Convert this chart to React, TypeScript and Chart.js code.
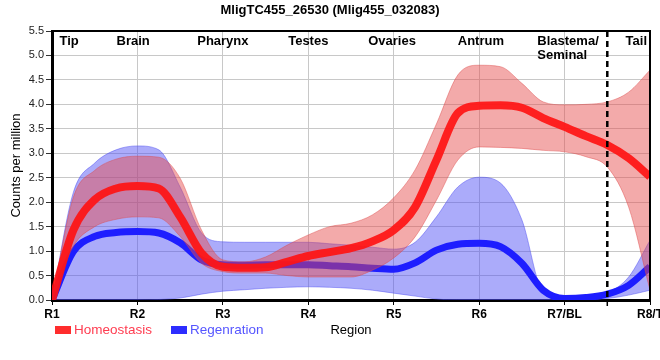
import React, { useEffect, useRef } from "react";
import { Chart, registerables } from "chart.js";

Chart.register(...registerables);

const titleText = "MligTC455_26530 (Mlig455_032083)";
const xTickLabels = ["R1", "R2", "R3", "R4", "R5", "R6", "R7/BL", "R8/T"];
const regionNames = ["Tip", "Brain", "Pharynx", "Testes", "Ovaries", "Antrum", "Blastema/\nSeminal", "Tail"];
const regionPos = [1.2, 1.95, 3.0, 4.0, 4.98, 6.02, 6.88, 7.84];
const dividerPos = 7.5;

const xPos = [1, 1.25, 1.5, 1.75, 2, 2.25, 2.5, 2.75, 3, 3.25, 3.5, 3.75, 4, 4.25, 4.5, 4.75, 5, 5.25, 5.5, 5.75, 6, 6.25, 6.5, 6.75, 7, 7.25, 7.5, 7.75, 8];

const homeoMean = [0, 1.43, 2.05, 2.28, 2.33, 2.28, 1.7, 0.96, 0.68, 0.66, 0.67, 0.78, 0.9, 0.98, 1.06, 1.2, 1.43, 1.9, 2.86, 3.82, 3.97, 3.98, 3.93, 3.72, 3.54, 3.35, 3.17, 2.9, 2.52];
const homeoUpper = [0, 2.1, 2.65, 2.88, 2.94, 2.92, 2.49, 1.43, 0.82, 0.78, 0.88, 1.12, 1.33, 1.5, 1.57, 1.74, 2.09, 2.66, 3.6, 4.6, 4.8, 4.77, 4.43, 4.05, 3.99, 4.0, 4.05, 4.25, 4.7];
const homeoLower = [0, 1.1, 1.5, 1.65, 1.7, 1.68, 1.3, 0.75, 0.58, 0.55, 0.55, 0.5, 0.47, 0.47, 0.47, 0.61, 0.86, 1.29, 2.04, 2.86, 3.13, 3.12, 3.1, 3.06, 3.03, 2.93, 2.72, 1.9, 0.2];

const regenMean = [0, 0.99, 1.3, 1.38, 1.4, 1.37, 1.17, 0.82, 0.72, 0.71, 0.72, 0.72, 0.72, 0.7, 0.68, 0.65, 0.63, 0.76, 1.02, 1.14, 1.16, 1.09, 0.75, 0.2, 0.03, 0.05, 0.12, 0.3, 0.68];
const regenUpper = [0, 2.2, 2.8, 3.07, 3.15, 3.07, 2.31, 1.37, 1.19, 1.18, 1.18, 1.18, 1.18, 1.15, 1.12, 1.08, 1.04, 1.18, 1.7, 2.31, 2.51, 2.39, 1.64, 0.16, 0.05, 0.08, 0.15, 0.47, 1.22];
const regenLower = [0, 0, 0, 0, 0, 0.01, 0.04, 0.12, 0.18, 0.21, 0.24, 0.26, 0.27, 0.26, 0.24, 0.2, 0.14, 0.08, 0.02, 0, 0, 0, 0, 0, 0, 0, 0.03, 0.1, 0.2];

const legendItems = [
  { label: "Homeostasis", box: "rgb(255,45,45)", text: "rgb(255,60,80)" },
  { label: "Regenration", box: "rgb(45,45,255)", text: "rgb(85,85,255)" },
];

const FONT = '"Liberation Sans", Arial, sans-serif';

const pts = (ys: number[]) => ys.map((y, i) => ({ x: xPos[i], y }));

const decorPlugin = {
  id: "decor",
  afterDatasetsDraw(chart: any) {
    const { ctx, chartArea, scales } = chart;
    const x = scales.x.getPixelForValue(dividerPos);
    ctx.save();
    ctx.strokeStyle = "#000";
    ctx.lineWidth = 2.5;
    ctx.setLineDash([6, 4]);
    ctx.beginPath();
    ctx.moveTo(x, chartArea.top);
    ctx.lineTo(x, chartArea.bottom);
    ctx.stroke();
    ctx.setLineDash([]);
    ctx.lineWidth = 1.5;
    ctx.beginPath();
    ctx.moveTo(x, chartArea.bottom);
    ctx.lineTo(x, chartArea.bottom + 6);
    ctx.stroke();
    // top & right border
    ctx.lineWidth = 2;
    ctx.beginPath();
    ctx.moveTo(chartArea.left, chartArea.top);
    ctx.lineTo(chartArea.right, chartArea.top);
    ctx.lineTo(chartArea.right, chartArea.bottom);
    ctx.stroke();
    ctx.restore();
  },
  afterDraw(chart: any) {
    const { ctx, chartArea, scales } = chart;
    ctx.save();
    ctx.fillStyle = "#000";
    ctx.textBaseline = "middle";
    ctx.font = `bold 13px ${FONT}`;
    ctx.textAlign = "center";
    ctx.fillText(titleText, 330, 10);
    regionNames.forEach((name, i) => {
      const px = scales.x.getPixelForValue(regionPos[i]);
      const lines = name.split("\n");
      if (lines.length > 1) {
        ctx.textAlign = "left";
        lines.forEach((l, j) => ctx.fillText(l, px - 17, chartArea.top + 10 + j * 14));
        ctx.textAlign = "center";
      } else {
        ctx.fillText(name, px, chartArea.top + 10);
      }
    });
    // legend
    ctx.font = `13.5px ${FONT}`;
    ctx.textAlign = "left";
    let lx = 55;
    const ly = 330;
    legendItems.forEach((it) => {
      ctx.fillStyle = it.box;
      ctx.fillRect(lx, ly - 4, 16, 8);
      ctx.fillStyle = it.text;
      ctx.fillText(it.label, lx + 19, ly);
      lx += 116;
    });
    ctx.restore();
  },
};

export default function App() {
  const ref = useRef<HTMLCanvasElement>(null);
  useEffect(() => {
    document.body.style.margin = "0";
    const canvas = ref.current!;
    const lineCommon = {
      pointRadius: 0,
      cubicInterpolationMode: "monotone" as const,
    };
    const chart = new Chart(canvas, {
      type: "line",
      data: {
        datasets: [
          { label: "Homeostasis", data: pts(homeoMean), borderColor: "rgba(255,20,20,0.92)", borderWidth: 8, fill: false, order: 0, ...lineCommon },
          { label: "hu", data: pts(homeoUpper), borderColor: "rgba(220,70,70,0.45)", borderWidth: 1, backgroundColor: "rgba(230,75,75,0.47)", fill: 2, order: 1, ...lineCommon },
          { label: "hl", data: pts(homeoLower), borderColor: "rgba(220,70,70,0.45)", borderWidth: 1, fill: false, order: 2, ...lineCommon },
          { label: "Regenration", data: pts(regenMean), borderColor: "rgb(30,30,255)", borderWidth: 7, fill: false, order: 3, ...lineCommon },
          { label: "ru", data: pts(regenUpper), borderColor: "rgba(70,70,240,0.45)", borderWidth: 1, backgroundColor: "rgba(80,80,245,0.48)", fill: 5, order: 4, ...lineCommon },
          { label: "rl", data: pts(regenLower), borderColor: "rgba(70,70,240,0.45)", borderWidth: 1, fill: false, order: 5, ...lineCommon },
        ],
      },
      options: {
        responsive: false,
        animation: false,
        layout: { padding: { top: 31, left: 0, right: 10, bottom: 0 } },
        plugins: { legend: { display: false }, title: { display: false }, tooltip: { enabled: false } },
        scales: {
          x: {
            type: "linear",
            min: 1,
            max: 8,
            afterFit(scale: any) {
              scale.height = 60;
              scale.paddingLeft = 0;
              scale.paddingRight = 0;
            },
            ticks: {
              stepSize: 1,
              autoSkip: false,
              maxRotation: 0,
              padding: 2,
              color: "#000",
              font: { family: FONT, size: 12, weight: "bold" },
              callback: (v: any) => xTickLabels[Math.round(Number(v)) - 1] ?? "",
            },
            grid: { color: "#c8c8c8", lineWidth: 1, tickLength: 5, tickColor: "#000", drawOnChartArea: true },
            border: { display: true, color: "#000", width: 3 },
            title: { display: true, text: "Region", color: "#000", font: { family: FONT, size: 13 }, padding: { top: 0, bottom: 22 } },
          },
          y: {
            min: 0,
            max: 5.5,
            afterFit(scale: any) {
              scale.width = 52;
              scale.paddingTop = 0;
              scale.paddingBottom = 0;
            },
            ticks: {
              stepSize: 0.5,
              padding: 2,
              color: "#222",
              font: { family: FONT, size: 11 },
              callback: (v: any) => Number(v).toFixed(1),
            },
            grid: { color: "#c8c8c8", lineWidth: 1, tickLength: 6, tickColor: "#333" },
            border: { display: true, color: "#000", width: 3 },
            title: { display: true, text: "Counts per million", color: "#000", font: { family: FONT, size: 13 }, padding: { top: 9, bottom: 0 } },
          },
        },
      },
      plugins: [decorPlugin],
    });
    return () => chart.destroy();
  }, []);
  return (
    <div style={{ width: 660, height: 360 }}>
      <canvas ref={ref} width={660} height={360} />
    </div>
  );
}
